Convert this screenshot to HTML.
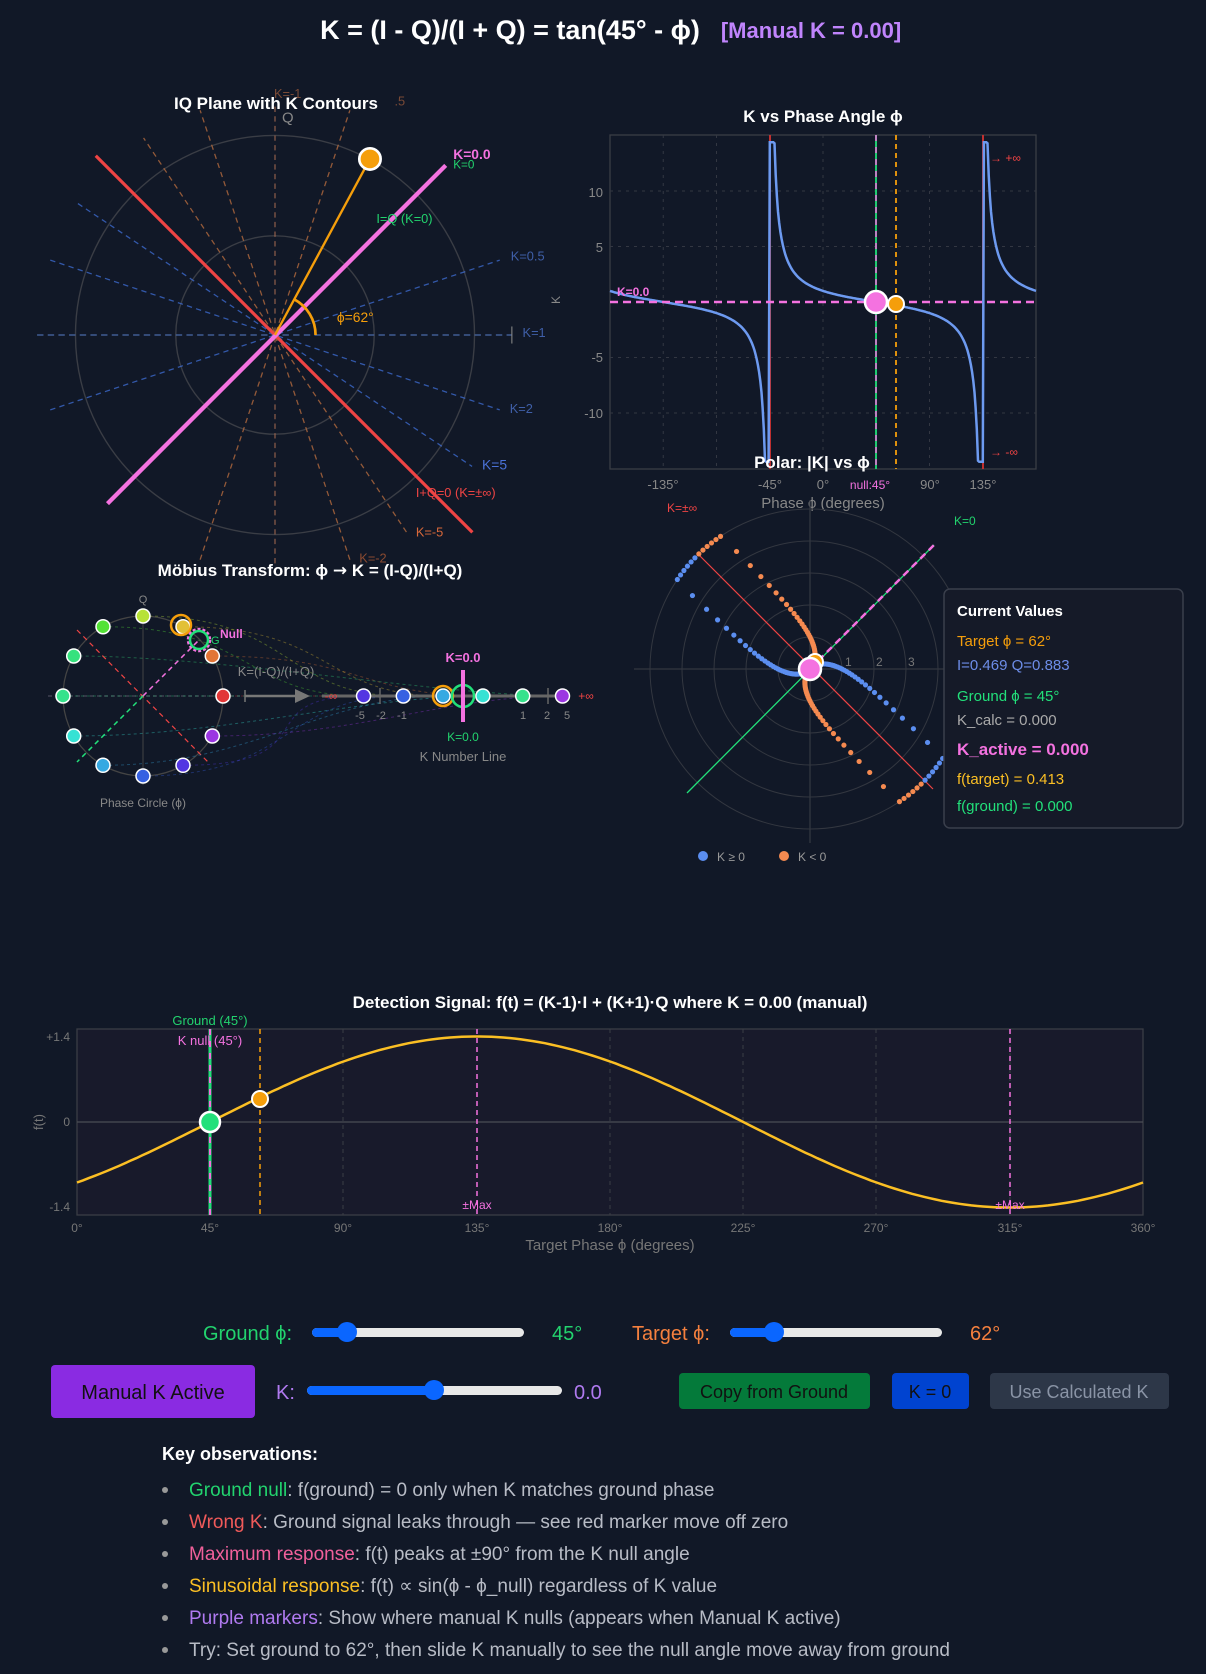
<!DOCTYPE html>
<html><head><meta charset="utf-8">
<style>
html,body{margin:0;padding:0;background:#111827;}
svg{display:block;font-family:"Liberation Sans",sans-serif;}
</style></head>
<body>
<svg id="s" width="1206" height="1674" viewBox="0 0 1206 1674" xmlns="http://www.w3.org/2000/svg">
<rect width="1206" height="1674" fill="#111827"/>
<!-- Title -->
<text x="510" y="39" text-anchor="middle" font-size="27" font-weight="bold" fill="#ffffff">K = (I - Q)/(I + Q) = tan(45° - ϕ)</text>
<text x="811" y="38" text-anchor="middle" font-size="22" font-weight="bold" fill="#c084fc">[Manual K = 0.00]</text>

<!-- ========== IQ PLANE ========== -->
<g id="iq" transform="translate(275,335) scale(1.067)">
<circle cx="0" cy="0" r="187" fill="none" stroke="#3a3d45" stroke-width="1.3"/>
<circle cx="0" cy="0" r="93" fill="none" stroke="#3a3d45" stroke-width="1.3"/>
<g id="contours"></g>
<line x1="0" y1="-214" x2="0" y2="216" stroke="#a06850" stroke-width="1" stroke-dasharray="5,4"/>
<line x1="-223" y1="0" x2="222" y2="0" stroke="#4a6aa8" stroke-width="1.2" stroke-dasharray="6,4"/>
<line x1="222" y1="-8" x2="222" y2="8" stroke="#888" stroke-width="1"/>
<line x1="-168" y1="-168" x2="185" y2="185" stroke="#ef4444" stroke-width="3"/>
<line x1="-157" y1="158" x2="160" y2="-159" stroke="#f472e0" stroke-width="4"/>
<line x1="0" y1="0" x2="89" y2="-165" stroke="#f59e0b" stroke-width="2.2"/>
<path d="M 38 0 A 38 38 0 0 0 17.8 -33.6" fill="none" stroke="#f59e0b" stroke-width="2.5"/>
<circle cx="89" cy="-165" r="10" fill="#f59e0b" stroke="#fff" stroke-width="2.5"/>
<text x="-1" y="-222" font-size="12" fill="#7a4a36">K=-1</text>
<text x="112" y="-215" font-size="12" fill="#7a4a36">.5</text>
<text x="12" y="-199" text-anchor="middle" font-size="14" fill="#888">Q</text>
<text x="167" y="-165" font-size="13" font-weight="bold" fill="#f472e0">K=0.0</text>
<text x="167" y="-156" font-size="11" fill="#22d36e">K=0</text>
<text x="95" y="-105" font-size="12" fill="#22d36e">I=Q (K=0)</text>
<text x="58" y="-12" font-size="13" fill="#f59e0b">ϕ=62°</text>
<text x="221" y="-70" font-size="12" fill="#3f5fa8">K=0.5</text>
<text x="232" y="2" font-size="12" fill="#3f5fa8">K=1</text>
<text x="220" y="73" font-size="12" fill="#3f5fa8">K=2</text>
<text x="194" y="126" font-size="13" fill="#4a72d8">K=5</text>
<text x="132" y="152" font-size="12" fill="#ef4444">I+Q=0 (K=±∞)</text>
<text x="132" y="189" font-size="12" fill="#d9683a">K=-5</text>
<text x="79" y="213" font-size="12" fill="#8a4a30">K=-2</text>
</g>
<text x="276" y="109" text-anchor="middle" font-size="17" font-weight="bold" fill="#fff">IQ Plane with K Contours</text>

<!-- ========== K vs PHASE ========== -->
<g id="kphase">
<rect x="610" y="135" width="426" height="334" fill="#111827" stroke="#3a3d45" stroke-width="1.3"/>
<g id="kgrid"></g>
<line x1="770" y1="135" x2="770" y2="469" stroke="#c03030" stroke-width="2"/>
<line x1="983" y1="135" x2="983" y2="469" stroke="#c03030" stroke-width="2"/>
<path id="kcurve" fill="none" stroke="#6d9af0" stroke-width="2.5"/>
<line x1="876" y1="135" x2="876" y2="469" stroke="#22e07a" stroke-width="1.8"/>
<line x1="876" y1="135" x2="876" y2="469" stroke="#f472e0" stroke-width="1.5" stroke-dasharray="6,6"/>
<line x1="896" y1="135" x2="896" y2="469" stroke="#f59e0b" stroke-width="1.8" stroke-dasharray="5,4"/>
<line x1="610" y1="302" x2="1036" y2="302" stroke="#f472e0" stroke-width="2.5" stroke-dasharray="8,5"/>
<circle cx="876" cy="302" r="11" fill="#f472e0" stroke="#fff" stroke-width="2.5"/>
<circle cx="896" cy="304" r="8" fill="#f59e0b" stroke="#fff" stroke-width="2"/>
<text x="823" y="122" text-anchor="middle" font-size="17" font-weight="bold" fill="#fff">K vs Phase Angle ϕ</text>
<text x="617" y="296" font-size="12" font-weight="bold" fill="#f472e0">K=0.0</text>
<text x="990" y="162" font-size="12" fill="#ef4444">→ +∞</text>
<text x="990" y="456" font-size="12" fill="#ef4444">→ -∞</text>
<g font-size="13" fill="#888" text-anchor="end">
<text x="603" y="197">10</text><text x="603" y="252">5</text><text x="603" y="362">-5</text><text x="603" y="418">-10</text>
</g>
<g font-size="13" fill="#888" text-anchor="middle">
<text x="663" y="489">-135°</text><text x="770" y="489">-45°</text><text x="823" y="489">0°</text><text x="930" y="489">90°</text><text x="983" y="489">135°</text>
<text x="823" y="508" font-size="15">Phase ϕ (degrees)</text>
</g>
<text x="870" y="489" text-anchor="middle" font-size="12" fill="#f472e0">null:45°</text>
<text x="560" y="304" font-size="12" fill="#888" transform="rotate(-90 560 304)">K</text>
</g>

<!-- ========== POLAR ========== -->
<g id="polar">
<circle cx="810" cy="669" r="32" fill="none" stroke="#333740"/>
<circle cx="810" cy="669" r="64" fill="none" stroke="#333740"/>
<circle cx="810" cy="669" r="96" fill="none" stroke="#333740"/>
<circle cx="810" cy="669" r="128" fill="none" stroke="#333740"/>
<circle cx="810" cy="669" r="160" fill="none" stroke="#333740"/>
<line x1="634" y1="669" x2="986" y2="669" stroke="#333740" stroke-width="1.3"/>
<line x1="810" y1="500" x2="810" y2="843" stroke="#333740" stroke-width="1.3"/>
<line x1="687" y1="793" x2="934" y2="545" stroke="#22e07a" stroke-width="1.3"/>
<line x1="810" y1="669" x2="934" y2="545" stroke="#f472e0" stroke-width="2.5" stroke-dasharray="7,5"/>
<line x1="697" y1="553" x2="933" y2="789" stroke="#ef4444" stroke-width="1.2"/>
<g font-size="12" fill="#777"><text x="845" y="666">1</text><text x="876" y="666">2</text><text x="908" y="666">3</text></g>
<g id="pdots"></g>
<circle cx="815" cy="662" r="8" fill="#f59e0b" stroke="#fff" stroke-width="2"/>
<circle cx="810" cy="669" r="11" fill="#f472e0" stroke="#fff" stroke-width="2.5"/>
<text x="812" y="468" text-anchor="middle" font-size="17" font-weight="bold" fill="#fff">Polar: |K| vs ϕ</text>
<text x="667" y="512" font-size="12" fill="#ef4444">K=±∞</text>
<text x="954" y="525" font-size="12" fill="#22d36e">K=0</text>
<circle cx="703" cy="856" r="5" fill="#5b8ef0"/><text x="717" y="861" font-size="12" fill="#999">K ≥ 0</text>
<circle cx="784" cy="856" r="5" fill="#f58a50"/><text x="798" y="861" font-size="12" fill="#999">K &lt; 0</text>
</g>

<!-- Current values -->
<rect x="944" y="589" width="239" height="239" rx="6" fill="#151a28" stroke="#3a3f4c" stroke-width="1.5"/>
<g font-size="15">
<text x="957" y="616" font-weight="bold" fill="#fff">Current Values</text>
<text x="957" y="646" fill="#f59e0b">Target ϕ = 62°</text>
<text x="957" y="670" fill="#6d8de8">I=0.469 Q=0.883</text>
<text x="957" y="701" fill="#22e07a">Ground ϕ = 45°</text>
<text x="957" y="725" fill="#aaa">K_calc = 0.000</text>
<text x="957" y="755" font-size="17" font-weight="bold" fill="#f472e0">K_active = 0.000</text>
<text x="957" y="784" fill="#fbbf24">f(target) = 0.413</text>
<text x="957" y="811" fill="#22e07a">f(ground) = 0.000</text>
</g>

<!-- ========== MOBIUS ========== -->
<g id="mob">
<text x="310" y="576" text-anchor="middle" font-size="17" font-weight="bold" fill="#fff">Möbius Transform: ϕ <tspan font-family="DejaVu Sans">→</tspan> K = (I-Q)/(I+Q)</text>
<circle cx="143" cy="696" r="80" fill="none" stroke="#444" stroke-width="1.3"/>
<line x1="48" y1="696" x2="240" y2="696" stroke="#556" stroke-width="1" stroke-dasharray="4,3"/>
<line x1="143" y1="610" x2="143" y2="785" stroke="#444" stroke-width="1"/>
<line x1="77" y1="630" x2="208" y2="762" stroke="#ef4444" stroke-width="1.2" stroke-dasharray="5,4"/>
<line x1="143" y1="696" x2="77" y2="762" stroke="#22e07a" stroke-width="1.5" stroke-dasharray="5,4"/>
<line x1="143" y1="696" x2="200" y2="639" stroke="#f472e0" stroke-width="1.5" stroke-dasharray="5,4"/>
<g id="mcurves"></g>
<line x1="322" y1="696" x2="560" y2="696" stroke="#666" stroke-width="3"/>
<line x1="380" y1="688" x2="380" y2="704" stroke="#666" stroke-width="1.5"/>
<line x1="548" y1="688" x2="548" y2="704" stroke="#666" stroke-width="1.5"/>
<line x1="245" y1="696" x2="295" y2="696" stroke="#777" stroke-width="2.5"/>
<line x1="245" y1="690" x2="245" y2="702" stroke="#777" stroke-width="1.5"/>
<polygon points="295,689 310,696 295,703" fill="#777"/>
<text x="276" y="676" text-anchor="middle" font-size="13" fill="#888">K=(I-Q)/(I+Q)</text>
<g id="mpts"></g>
<circle cx="181" cy="625" r="10" fill="none" stroke="#f59e0b" stroke-width="2.5"/>
<circle cx="199" cy="640" r="11" fill="none" stroke="#f472e0" stroke-width="2.5" stroke-dasharray="3,2"/>
<circle cx="199" cy="640" r="9" fill="none" stroke="#22e07a" stroke-width="2.5"/>
<text x="220" y="638" font-size="12" font-weight="bold" fill="#f472e0">Null</text>
<text x="211" y="644" font-size="11" fill="#22d36e">G</text>
<text x="143" y="603" text-anchor="middle" font-size="11" fill="#888">Q</text>
<text x="331" y="700" text-anchor="middle" font-size="12" fill="#ef4444">-∞</text>
<text x="586" y="700" text-anchor="middle" font-size="12" fill="#ef4444">+∞</text>
<circle cx="443" cy="696" r="10" fill="none" stroke="#f59e0b" stroke-width="2.5"/>
<circle cx="463" cy="696" r="11" fill="none" stroke="#22e07a" stroke-width="2.5"/>
<line x1="463" y1="670" x2="463" y2="722" stroke="#f472e0" stroke-width="4"/>
<text x="463" y="662" text-anchor="middle" font-size="13" font-weight="bold" fill="#f472e0">K=0.0</text>
<text x="463" y="741" text-anchor="middle" font-size="12" fill="#22d36e">K=0.0</text>
<g font-size="11" fill="#888" text-anchor="middle">
<text x="360" y="719">-5</text><text x="381" y="719">-2</text><text x="402" y="719">-1</text>
<text x="523" y="719">1</text><text x="547" y="719">2</text><text x="567" y="719">5</text>
</g>
<text x="463" y="761" text-anchor="middle" font-size="13" fill="#888">K Number Line</text>
<text x="143" y="807" text-anchor="middle" font-size="12" fill="#888">Phase Circle (ϕ)</text>
</g>

<!-- ========== DETECTION SIGNAL ========== -->
<g id="det">
<text x="610" y="1008" text-anchor="middle" font-size="17" font-weight="bold" fill="#fff">Detection Signal: f(t) = (K-1)·I + (K+1)·Q where K = 0.00 (manual)</text>
<rect x="77" y="1029" width="1066" height="186" fill="#181a2b" stroke="#3a3d45" stroke-width="1.3"/>
<g stroke="#3a3d45" stroke-dasharray="4,4" stroke-width="1">
<line x1="343" y1="1029" x2="343" y2="1215"/><line x1="610" y1="1029" x2="610" y2="1215"/>
<line x1="743" y1="1029" x2="743" y2="1215"/><line x1="876" y1="1029" x2="876" y2="1215"/>
<line x1="1010" y1="1029" x2="1010" y2="1215"/>
</g>
<line x1="77" y1="1122" x2="1143" y2="1122" stroke="#4a4d55" stroke-width="1.3"/>
<path id="fcurve" fill="none" stroke="#fbbf24" stroke-width="2.5"/>
<line x1="210" y1="1029" x2="210" y2="1215" stroke="#22e07a" stroke-width="3"/>
<line x1="210" y1="1029" x2="210" y2="1215" stroke="#f472e0" stroke-width="2" stroke-dasharray="6,6"/>
<line x1="260" y1="1029" x2="260" y2="1215" stroke="#f59e0b" stroke-width="1.5" stroke-dasharray="5,4"/>
<line x1="477" y1="1029" x2="477" y2="1215" stroke="#f472e0" stroke-width="1.5" stroke-dasharray="5,4"/>
<line x1="1010" y1="1029" x2="1010" y2="1215" stroke="#f472e0" stroke-width="1.5" stroke-dasharray="5,4"/>
<circle cx="210" cy="1122" r="10" fill="#22e07a" stroke="#fff" stroke-width="2.5"/>
<circle cx="260" cy="1099" r="8" fill="#f59e0b" stroke="#fff" stroke-width="2"/>
<text x="210" y="1025" text-anchor="middle" font-size="13" fill="#22d36e">Ground (45°)</text>
<text x="210" y="1045" text-anchor="middle" font-size="13" fill="#f472e0">K null (45°)</text>
<text x="477" y="1209" text-anchor="middle" font-size="12" fill="#f472e0">±Max</text>
<text x="1010" y="1209" text-anchor="middle" font-size="12" fill="#f472e0">±Max</text>
<g font-size="12" fill="#777" text-anchor="end">
<text x="70" y="1041">+1.4</text><text x="70" y="1126">0</text><text x="70" y="1211">-1.4</text>
</g>
<g font-size="12" fill="#777" text-anchor="middle">
<text x="77" y="1232">0°</text><text x="210" y="1232">45°</text><text x="343" y="1232">90°</text><text x="477" y="1232">135°</text>
<text x="610" y="1232">180°</text><text x="743" y="1232">225°</text><text x="876" y="1232">270°</text><text x="1010" y="1232">315°</text><text x="1143" y="1232">360°</text>
<text x="610" y="1250" font-size="15">Target Phase ϕ (degrees)</text>
</g>
<text x="43" y="1122" text-anchor="middle" font-size="13" fill="#777" transform="rotate(-90 43 1122)">f(t)</text>
</g>

<!-- ========== CONTROLS ========== -->
<g font-size="20">
<text x="203" y="1340" fill="#22d36e">Ground ϕ:</text>
<rect x="312" y="1328" width="212" height="9" rx="4.5" fill="#e8e8e8"/>
<rect x="312" y="1328" width="35" height="9" rx="4.5" fill="#0a66ff"/>
<circle cx="347" cy="1332" r="10" fill="#0a66ff"/>
<text x="552" y="1340" fill="#22d36e">45°</text>
<text x="632" y="1340" fill="#f5803e">Target ϕ:</text>
<rect x="730" y="1328" width="212" height="9" rx="4.5" fill="#e8e8e8"/>
<rect x="730" y="1328" width="44" height="9" rx="4.5" fill="#0a66ff"/>
<circle cx="774" cy="1332" r="10" fill="#0a66ff"/>
<text x="970" y="1340" fill="#f5803e">62°</text>

<rect x="51" y="1365" width="204" height="53" rx="4" fill="#8a2be2"/>
<text x="153" y="1399" text-anchor="middle" fill="#111">Manual K Active</text>
<text x="276" y="1399" fill="#b07af0">K:</text>
<rect x="307" y="1386" width="255" height="9" rx="4.5" fill="#e8e8e8"/>
<rect x="307" y="1386" width="127" height="9" rx="4.5" fill="#0a66ff"/>
<circle cx="434" cy="1390" r="10" fill="#0a66ff"/>
<text x="574" y="1399" fill="#b07af0">0.0</text>
<g font-size="18">
<rect x="679" y="1373" width="191" height="36" rx="4" fill="#047a3a"/>
<text x="774" y="1398" text-anchor="middle" fill="#111">Copy from Ground</text>
<rect x="892" y="1373" width="77" height="36" rx="4" fill="#0043d0"/>
<text x="930" y="1398" text-anchor="middle" fill="#111">K = 0</text>
<rect x="990" y="1373" width="179" height="36" rx="4" fill="#2d3748"/>
<text x="1079" y="1398" text-anchor="middle" fill="#8a94a6">Use Calculated K</text>
</g>
</g>

<!-- ========== KEY OBSERVATIONS ========== -->
<g font-size="19" fill="#b8bcc6">
<text x="162" y="1460" font-weight="bold" fill="#fff" font-size="18">Key observations:</text>
<g fill="#999"><circle cx="165" cy="1490" r="3"/><circle cx="165" cy="1522" r="3"/><circle cx="165" cy="1554" r="3"/><circle cx="165" cy="1586" r="3"/><circle cx="165" cy="1618" r="3"/><circle cx="165" cy="1650" r="3"/></g>
<text x="189" y="1496"><tspan fill="#22d36e">Ground null</tspan>: f(ground) = 0 only when K matches ground phase</text>
<text x="189" y="1528"><tspan fill="#f05a5a">Wrong K</tspan>: Ground signal leaks through — see red marker move off zero</text>
<text x="189" y="1560"><tspan fill="#f0609a">Maximum response</tspan>: f(t) peaks at ±90° from the K null angle</text>
<text x="189" y="1592"><tspan fill="#fbbf24">Sinusoidal response</tspan>: f(t) ∝ sin(ϕ - ϕ_null) regardless of K value</text>
<text x="189" y="1624"><tspan fill="#b07af0">Purple markers</tspan>: Show where manual K nulls (appears when Manual K active)</text>
<text x="189" y="1656">Try: Set ground to 62°, then slide K manually to see the null angle move away from ground</text>
</g>
</svg>
<script>
(function(){
var NS="http://www.w3.org/2000/svg";
function el(t,a,p){var e=document.createElementNS(NS,t);for(var k in a)e.setAttribute(k,a[k]);p.appendChild(e);return e;}
var R=Math.PI/180;
var c=document.getElementById('contours');
var cs=[[18.43,'#3f6fd8'],[-18.43,'#3f6fd8'],[-33.7,'#3f6fd8'],[71.57,'#c0703f'],[108.43,'#c0703f'],[123.7,'#c0703f']];
cs.forEach(function(d){var a=d[0]*R,L=222;
el('line',{x1:-L*Math.cos(a),y1:L*Math.sin(a),x2:L*Math.cos(a),y2:-L*Math.sin(a),stroke:d[1],'stroke-width':1.2,'stroke-dasharray':'5,4',opacity:0.75},c);});
var g=document.getElementById('kgrid');
function kx(p){return 823+p*426/360;} function ky(k){return 302-k*11.1;}
[-135,-90,-45,0,45,90,135].forEach(function(p){el('line',{x1:kx(p),y1:135,x2:kx(p),y2:469,stroke:'#333742','stroke-dasharray':'3,5'},g);});
[-10,-5,5,10].forEach(function(k){el('line',{x1:610,y1:ky(k),x2:1036,y2:ky(k),stroke:'#333742','stroke-dasharray':'3,5'},g);});
var d='';for(var p=-180;p<=180;p+=1){var k=Math.tan((45-p)*R);k=Math.max(-14.4,Math.min(14.4,k));d+=(p==-180?'M':'L')+kx(p).toFixed(1)+' '+ky(k).toFixed(1);}
document.getElementById('kcurve').setAttribute('d',d);
var pd=document.getElementById('pdots');
for(var p=0;p<360;p+=2){var k=Math.tan((45-p)*R);var r=Math.min(Math.abs(k),5)*32;
el('circle',{cx:810+r*Math.cos(p*R),cy:669-r*Math.sin(p*R),r:2.6,fill:k>=0?'#5b8ef0':'#f58a50'},pd);}
var f='';for(var p=0;p<=360;p+=2){var y=Math.sin(p*R)-Math.cos(p*R);f+=(p==0?'M':'L')+(77+p*1066/360).toFixed(1)+' '+(1122-y*60.5).toFixed(1);}
document.getElementById('fcurve').setAttribute('d',f);
var mp=document.getElementById('mpts'),mc=document.getElementById('mcurves');
var hues=[0,22,48,75,110,145,150,175,200,225,250,275];
for(var i=0;i<12;i++){var p=i*30;var x=143+80*Math.cos(p*R),y=696-80*Math.sin(p*R);var k=Math.tan((45-p)*R);
var lx=463+76*Math.atan(k);var col='hsl('+hues[i]+',75%,55%)';
el('path',{d:'M'+x+' '+y+' C '+(x+150)+' '+y+' '+(lx-120)+' 696 '+lx+' 696',fill:'none',stroke:col,'stroke-width':1,'stroke-dasharray':'3,3',opacity:0.35},mc);
el('circle',{cx:x,cy:y,r:7,fill:col,stroke:'#fff','stroke-width':1.5},mp);
if(i>=6)el('circle',{cx:lx,cy:696,r:7,fill:col,stroke:'#fff','stroke-width':1.5},mp);}
})();
</script>
</body></html>
